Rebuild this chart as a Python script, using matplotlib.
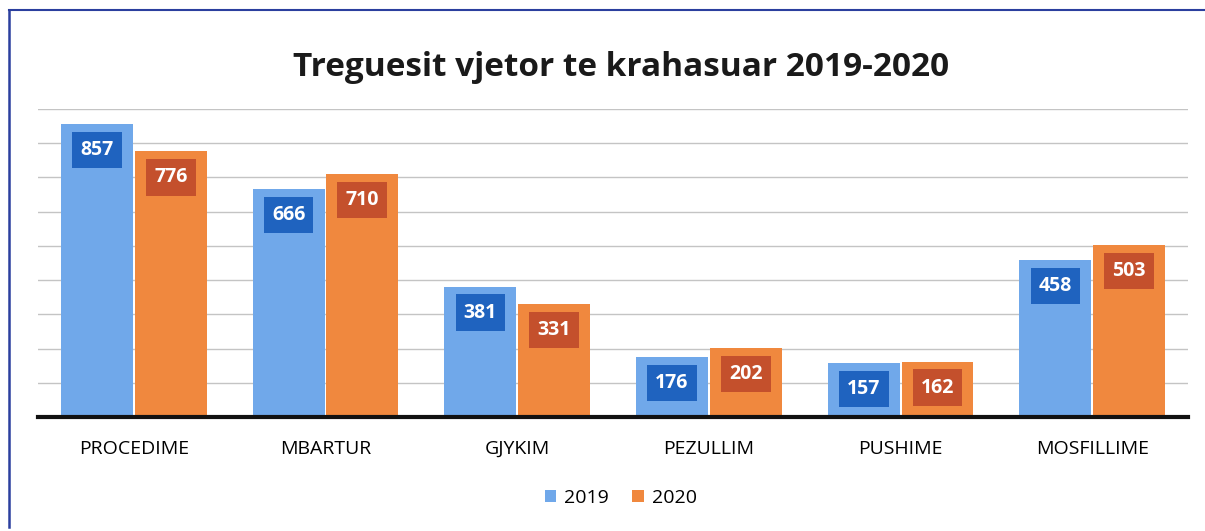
import matplotlib.pyplot as plt
import numpy as np

categories = ["PROCEDIME", "MBARTUR", "GJYKIM", "PEZULLIM", "PUSHIME", "MOSFILLIME"]
vals_2019 = [857, 666, 381, 176, 157, 458]
vals_2020 = [776, 710, 331, 202, 162, 503]
series_names = ["2019", "2020"]

plt.rcParams['font.family'] = ['Open Sans', 'DejaVu Sans']

fig = plt.figure(figsize=(12.05, 5.31), dpi=100)
ax = fig.add_axes([0.0315, 0.2147, 0.9545, 0.58])

x = np.arange(len(categories))
w = 0.375
bars1 = ax.bar(x - w / 2 - 0.005, vals_2019, w, color='#70a8ea', label=series_names[0], zorder=2)
bars2 = ax.bar(x + w / 2 + 0.005, vals_2020, w, color='#f0883e', label=series_names[1], zorder=2)

# data labels with filled boxes, inside the top of each bar
for bars, box in [(bars1, '#1f63bf'), (bars2, '#c4502c')]:
    for b in bars:
        ax.annotate(str(int(b.get_height())),
                    (b.get_x() + b.get_width() / 2, b.get_height()),
                    xytext=(0, -11.5), textcoords='offset points',
                    ha='center', va='top', fontsize=14, fontweight='bold', color='white',
                    bbox=dict(boxstyle='square,pad=0.42', fc=box, ec='none'), zorder=3)

ax.set_xlim(-0.5, len(categories) - 0.5)
ax.set_ylim(0, 900)
ax.set_yticks(np.arange(0, 901, 100))
ax.yaxis.grid(True, color='#c4c4c4', linewidth=1.0, zorder=0)
ax.set_axisbelow(True)
ax.tick_params(axis='y', left=False, labelleft=False)
ax.tick_params(axis='x', bottom=False, labelsize=14, pad=13)
ax.set_xticks(x)
ax.set_xticklabels(categories)
for s in ['top', 'right', 'left']:
    ax.spines[s].set_visible(False)
ax.spines['bottom'].set_linewidth(3)
ax.spines['bottom'].set_color('#111111')
ax.spines['bottom'].set_zorder(4)

fig.text(0.515, 0.872, "Treguesit vjetor te krahasuar 2019-2020", ha='center', va='center',
         fontsize=24, fontweight='bold', color='#1a1a1a')

fig.legend(handles=[bars1, bars2], labels=series_names, loc='center', bbox_to_anchor=(0.515, 0.063),
           ncol=2, frameon=False, fontsize=14, handlelength=0.6, handleheight=0.6,
           handletextpad=0.4, columnspacing=1.2)

# frame of the scanned chart
fig.add_artist(plt.Line2D([0.0075, 1.0], [0.981, 0.981], color='#2b3f9e', linewidth=1.5))
fig.add_artist(plt.Line2D([0.0075, 0.0075], [0.981, 0.008], color='#2b3f9e', linewidth=1.8))

plt.savefig('out.png', dpi=100)
